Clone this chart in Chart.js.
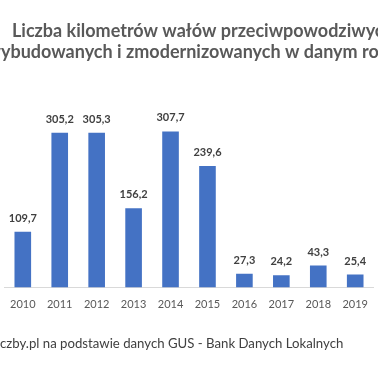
<!DOCTYPE html>
<html>
<head>
<meta charset="utf-8">
<script src="https://cdn.jsdelivr.net/npm/chart.js@4"></script>
<style>
  html, body { margin: 0; padding: 0; background: #ffffff; }
  #wrap { width: 378px; height: 370px; position: relative; overflow: hidden; }
</style>
</head>
<body>
<div id="wrap"><canvas id="c" width="378" height="370"></canvas></div>
<script>
const years = ['2010','2011','2012','2013','2014','2015','2016','2017','2018','2019'];
const kilometres = [109.7, 305.2, 305.3, 156.2, 307.7, 239.6, 27.3, 24.2, 43.3, 25.4];
const titleLines = ['Liczba kilometrów wałów przeciwpowodziwych', 'wybudowanych i zmodernizowanych w danym roku'];
const sourceText = 'liczby.pl na podstawie danych GUS - Bank Danych Lokalnych';

const fmt = v => v.toFixed(1).replace('.', ',');

const textPlugin = {
  id: 'texts',
  afterDraw(chart) {
    const ctx = chart.ctx;
    ctx.save();
    ctx.textBaseline = 'alphabetic';
    // title (cropped like the reference)
    ctx.fillStyle = '#595959';
    ctx.font = 'bold 18px Lato';
    ctx.textAlign = 'left';
    ctx.fillText(titleLines[0], 12, 37);
    const wW = ctx.measureText('w').width;
    ctx.fillText(titleLines[1], 1 - wW, 58);
    // value labels
    ctx.fillStyle = '#404040';
    ctx.font = 'bold 11px Lato';
    ctx.textAlign = 'center';
    ctx.textBaseline = 'alphabetic';
    const meta = chart.getDatasetMeta(0);
    meta.data.forEach((bar, i) => {
      ctx.fillText(fmt(kilometres[i]), bar.x, bar.y - 10);
    });
    // source
    ctx.fillStyle = '#404040';
    ctx.font = '13.2px Lato';
    ctx.textAlign = 'left';
    ctx.textBaseline = 'middle';
    const liW = ctx.measureText('li').width;
    ctx.fillText(sourceText, -liW, 344);
    ctx.restore();
  }
};

new Chart(document.getElementById('c'), {
  type: 'bar',
  data: {
    labels: years,
    datasets: [{
      data: kilometres,
      backgroundColor: '#4472C4',
      borderWidth: 0,
      barPercentage: 0.45,
      categoryPercentage: 1.0
    }]
  },
  options: {
    responsive: false,
    animation: false,
    devicePixelRatio: 1,
    layout: { padding: { left: 2.5, right: 2.5, top: 84.6, bottom: 57.5 } },
    plugins: { legend: { display: false }, title: { display: false }, tooltip: { enabled: false } },
    scales: {
      x: {
        grid: { display: false, drawTicks: false },
        border: { display: true, color: '#d9d9d9', width: 1 },
        ticks: { color: '#595959', font: { family: 'Lato', size: 11 }, padding: 10, maxRotation: 0 },
        afterFit(scale) { scale.height = 25; }
      },
      y: {
        display: false,
        min: 0,
        max: 400
      }
    }
  },
  plugins: [textPlugin]
});
</script>
</body>
</html>
